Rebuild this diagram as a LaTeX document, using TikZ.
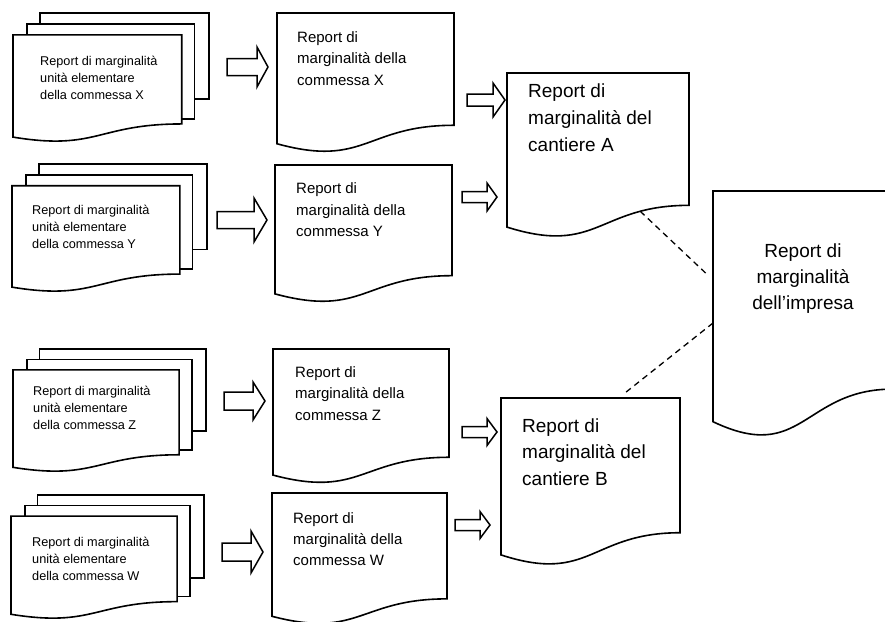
\documentclass[tikz,border=0pt]{standalone}
\usepackage{fontspec}
\setmainfont{Liberation Sans}
\usetikzlibrary{calc}
\tikzset{
  docline/.style={line width=1.6pt, fill=white, line join=miter},
  blockarrow/.style={line width=1.5pt, fill=white, line join=miter},
  dashline/.style={line width=1.3pt, dash pattern=on 6pt off 4.5pt},
  txt/.style={inner sep=0pt, anchor=base west},
}
% single document shape: name, x0, y0, w, h
\newcommand\mydoc[5]{%
  \begin{scope}[shift={(#2,#3)},xscale=#4,yscale=#5]
    \filldraw[docline] (0,0) coordinate (#1-nw) -- (1,0) -- (1,0.802)
      .. controls (0.5,0.802) and (0.5,1.1075) .. coordinate[pos=0.22] (#1-wave) (0,0.934) -- cycle;
    \coordinate (#1-w) at (0,0.45);
    \coordinate (#1-e) at (1,0.45);
  \end{scope}}
% stacked documents: name, x0, y0, w, h
\newcommand\mymultidoc[5]{%
  \begin{scope}[shift={(#2,#3)},xscale=#4,yscale=#5]
    \filldraw[docline] (0.1376,0) rectangle (1,0.668);
    \filldraw[docline] (0.071,0.084) rectangle (0.926,0.82);
    \filldraw[docline] (0,0.170) coordinate (#1-nw) -- (0.861,0.170) -- (0.861,0.86)
      .. controls (0.43,0.86) and (0.43,1.07) .. (0,0.962) -- cycle;
    \coordinate (#1-e) at (1,0.45);
  \end{scope}}
% block arrow: x0, x1, cy, shaft half height, head half height, head length
\newcommand\myarrow[6]{%
  \filldraw[blockarrow] (#1,{#3-#4}) -- ({#2-#6},{#3-#4}) -- ({#2-#6},{#3-#5}) -- (#2,#3)
    -- ({#2-#6},{#3+#5}) -- ({#2-#6},{#3+#4}) -- (#1,{#3+#4}) -- cycle;}
\begin{document}
\begin{tikzpicture}[x=1pt,y=-1pt]
\useasboundingbox (0,0) rectangle (885,621);
\fill[white] (0,0) rectangle (885,621);

% ---- left column: stacked unit reports
\mymultidoc{mX}{13}{13}{196}{129}
\mymultidoc{mY}{12}{164}{195}{128}
\mymultidoc{mZ}{13}{349}{193}{123}
\mymultidoc{mW}{11}{495}{193}{124}

\node[txt] (tmX) at (40,65) {\parbox[t]{170pt}{\fontsize{12.7}{17}\selectfont\raggedright Report di marginalità\\unità elementare\\della commessa X}};
\node[txt] (tmY) at (32,214.5) {\parbox[t]{170pt}{\fontsize{12.7}{17}\selectfont\raggedright Report di marginalità\\unità elementare\\della commessa Y}};
\node[txt] (tmZ) at (33,395.5) {\parbox[t]{170pt}{\fontsize{12.7}{17}\selectfont\raggedright Report di marginalità\\unità elementare\\della commessa Z}};
\node[txt] (tmW) at (32,546) {\parbox[t]{170pt}{\fontsize{12.7}{17}\selectfont\raggedright Report di marginalità\\unità elementare\\della commessa W}};

% ---- arrows to middle column
\myarrow{227}{268}{67}{8.5}{20}{11}
\myarrow{217}{267}{220}{8.5}{22}{13}
\myarrow{224}{265}{401}{9}{19}{12}
\myarrow{222}{263}{552}{9}{21}{12}

% ---- middle column: job reports
\mydoc{dX}{277}{13}{177}{140}
\mydoc{dY}{275}{165}{177}{138}
\mydoc{dZ}{273}{349}{176}{135}
\mydoc{dW}{272}{493}{175}{132}

\node[txt] (tdX) at (297,42) {\parbox[t]{160pt}{\fontsize{15}{21.5}\selectfont\raggedright Report di\\marginalità della\\commessa X}};
\node[txt] (tdY) at (296,193.5) {\parbox[t]{160pt}{\fontsize{15}{21.5}\selectfont\raggedright Report di\\marginalità della\\commessa Y}};
\node[txt] (tdZ) at (295,377) {\parbox[t]{160pt}{\fontsize{15}{21.5}\selectfont\raggedright Report di\\marginalità della\\commessa Z}};
\node[txt] (tdW) at (293,523.5) {\parbox[t]{160pt}{\fontsize{15}{21}\selectfont\raggedright Report di\\marginalità della\\commessa W}};

% ---- arrows to site reports
\myarrow{467}{505}{100}{6}{17}{12}
\myarrow{462}{497}{197}{5.5}{14}{10}
\myarrow{462}{497}{432}{5.5}{13.5}{10}
\myarrow{455}{490}{525}{5.5}{13.5}{10}

% ---- site reports
\mydoc{A}{507}{73}{182}{165}
\mydoc{B}{501}{398}{179}{168}
\coordinate (B-top) at (618.6,398);

\node[txt] (tA) at (528,97) {\parbox[t]{170pt}{\fontsize{19}{27}\selectfont\raggedright Report di\\marginalità del\\cantiere A}};
\node[txt] (tB) at (522,432) {\parbox[t]{170pt}{\fontsize{19}{26.5}\selectfont\raggedright Report di\\marginalità del\\cantiere B}};

% ---- company report
\mydoc{I}{713}{191}{180}{247}
\coordinate (I-w1) at (713,280);
\coordinate (I-w2) at (713,323);
\node[inner sep=0pt, anchor=base] (tI) at (803,257) {\parbox[t]{160pt}{\fontsize{19}{26}\selectfont\centering Report di\\marginalità\\dell’impresa}};

% ---- dashed links
\draw[dashline, shorten >=7pt] (A-wave) -- (I-w1);
\draw[dashline, shorten >=7pt] (I-w2) -- (B-top);
\end{tikzpicture}
\end{document}
